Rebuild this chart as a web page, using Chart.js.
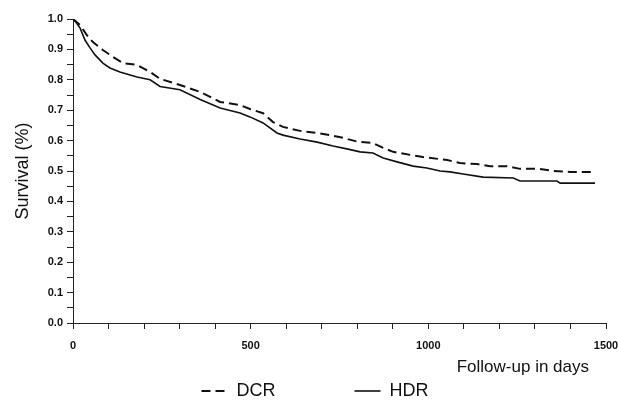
<!DOCTYPE html>
<html>
<head>
<meta charset="utf-8">
<script src="https://cdn.jsdelivr.net/npm/chart.js@4/dist/chart.umd.min.js"></script>
<style>
  html, body { margin: 0; padding: 0; background: #fff; }
  #wrap { width: 618px; height: 402px; position: relative; }
</style>
</head>
<body>
<div id="wrap"><canvas id="survChart"></canvas></div>
<script>
// Kaplan-Meier style survival curves
const hdrDays = [0, 8, 20, 34, 48, 62, 84, 104, 132, 180, 217, 245, 301, 358, 414, 470, 498, 535, 574, 591, 639, 687, 732, 774, 808, 844, 873, 912, 957, 996, 1033, 1061, 1098, 1154, 1239, 1258, 1362, 1371, 1469];
const hdrSurv = [1.0, 0.99, 0.97, 0.93, 0.905, 0.882, 0.855, 0.839, 0.826, 0.809, 0.80, 0.778, 0.767, 0.735, 0.707, 0.691, 0.678, 0.658, 0.625, 0.618, 0.605, 0.595, 0.582, 0.572, 0.563, 0.559, 0.543, 0.530, 0.516, 0.51, 0.50, 0.497, 0.49, 0.48, 0.477, 0.467, 0.467, 0.46, 0.46];

const dcrDays = [0, 20, 39, 56, 84, 113, 141, 180, 217, 245, 301, 358, 414, 470, 498, 535, 563, 591, 639, 687, 723, 760, 799, 844, 873, 901, 949, 985, 1033, 1053, 1089, 1137, 1174, 1222, 1258, 1314, 1351, 1399, 1464];
const dcrSurv = [1.0, 0.98, 0.947, 0.924, 0.898, 0.875, 0.855, 0.849, 0.826, 0.803, 0.783, 0.76, 0.727, 0.717, 0.704, 0.69, 0.661, 0.645, 0.632, 0.625, 0.618, 0.609, 0.597, 0.592, 0.576, 0.563, 0.553, 0.546, 0.539, 0.536, 0.526, 0.523, 0.516, 0.516, 0.507, 0.507, 0.50, 0.497, 0.497];

const seriesLabels = ['DCR', 'HDR'];
const xLabelEvery = 500;   // days between labelled x ticks
const yTitle = 'Survival (%)';
const xTitle = 'Follow-up in days';

const toPoints = (xs, ys) => xs.map((d, i) => ({ x: d, y: ys[i] }));
const FONT = '"Liberation Sans", Arial, sans-serif';

// x-axis title sits under the right part of the axis
const xTitlePlugin = {
  id: 'xTitle',
  afterDraw(chart) {
    const { ctx, scales: { x } } = chart;
    ctx.save();
    ctx.font = '17px ' + FONT;
    ctx.fillStyle = '#111';
    ctx.textAlign = 'center';
    ctx.textBaseline = 'middle';
    ctx.fillText(xTitle, x.getPixelForValue(1266), 367);
    ctx.restore();
  }
};

const ctx = document.getElementById('survChart').getContext('2d');

new Chart(ctx, {
  type: 'line',
  data: {
    datasets: [
      {
        label: seriesLabels[0],
        data: toPoints(dcrDays, dcrSurv),
        borderColor: '#111',
        borderWidth: 2,
        borderDash: [9, 5],
        pointRadius: 0,
        tension: 0,
        fill: false
      },
      {
        label: seriesLabels[1],
        data: toPoints(hdrDays, hdrSurv),
        borderColor: '#111',
        borderWidth: 1.6,
        pointRadius: 0,
        tension: 0,
        fill: false
      }
    ]
  },
  options: {
    responsive: true,
    maintainAspectRatio: false,
    animation: false,
    layout: { padding: { left: 12, right: 0, top: 19, bottom: 0 } },
    plugins: {
      tooltip: { enabled: false },
      legend: {
        position: 'bottom',
        maxHeight: 24,
        labels: {
          color: '#111',
          font: { family: FONT, size: 18 },
          usePointStyle: true,
          pointStyle: 'line',
          pointStyleWidth: 26,
          padding: 4,
          // keep the line dash / width of each series, widen the gap after the first entry
          generateLabels(chart) {
            const items = Chart.defaults.plugins.legend.labels.generateLabels(chart);
            items.forEach((item, i) => {
              const ds = chart.data.datasets[i];
              item.lineDash = ds.borderDash || [];
              item.lineWidth = ds.borderWidth;
            });
            items[0].text = items[0].text + ' '.repeat(15);
            return items;
          }
        }
      }
    },
    scales: {
      x: {
        type: 'linear',
        min: 0,
        max: 1500,
        afterFit(scale) {
          scale.height = 55;
          // room for the overhanging "1500" label only
          scale.paddingLeft = 0;
          scale.paddingRight = 12;
        },
        border: { color: '#222', width: 1 },
        grid: { drawOnChartArea: false, drawTicks: true, tickLength: 6, tickColor: '#222' },
        ticks: {
          stepSize: 100,
          autoSkip: false,
          maxRotation: 0,
          padding: 10,
          color: '#111',
          font: { family: FONT, size: 11, weight: 'bold' },
          callback: v => (v % xLabelEvery === 0 ? String(v) : '')
        }
      },
      y: {
        min: 0,
        max: 1,
        afterFit(scale) { scale.width = 61; },
        border: { color: '#222', width: 1 },
        grid: { drawOnChartArea: false, drawTicks: true, tickLength: 6, tickColor: '#222' },
        title: {
          display: true,
          text: yTitle,
          color: '#111',
          padding: { top: 0, bottom: 0 },
          font: { family: FONT, size: 18 }
        },
        ticks: {
          stepSize: 0.05,
          autoSkip: false,
          padding: 4,
          color: '#111',
          font: { family: FONT, size: 11, weight: 'bold' },
          callback: v => {
            const t = Math.round(v * 100);
            return t % 10 === 0 ? (t / 100).toFixed(1) : '';
          }
        }
      }
    }
  },
  plugins: [xTitlePlugin]
});
</script>
</body>
</html>
